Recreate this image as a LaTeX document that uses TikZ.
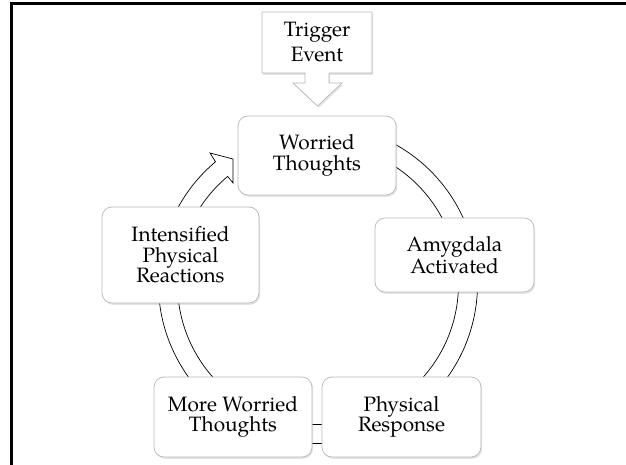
\documentclass[tikz,border=0pt]{standalone}
\usepackage{fontspec}
\setmainfont{TeX Gyre Pagella}
\usetikzlibrary{shadows}
\begin{document}
\begin{tikzpicture}[x=1pt,y=-1pt,
  boxshadow/.style={drop shadow={shadow xshift=1.2pt, shadow yshift=-1.8pt, opacity=0.22}},
  box/.style={draw=black!28, line width=0.7pt, fill=white, rounded corners=10pt,
    align=center, inner sep=0pt, font=\fontsize{20.8}{20.5}\selectfont, boxshadow},
  ringline/.style={draw=black, line width=0.7pt, fill=white},
  frameline/.style={draw=black, line width=3pt}]
\useasboundingbox (0,0) rectangle (626,465);
% frame
\draw[frameline] (626,3.5) -- (11,3.5) -- (11,465);
% cycle ring with arrow head
\draw[ringline] ([shift={(318,284)}]-80:159.5) arc[start angle=-80, end angle=230, radius=159.5]
  -- (210,153) -- (233,159) -- (233,183)
  -- ([shift={(318,284)}]230:140.5) arc[start angle=230, end angle=-80, radius=140.5] -- cycle;
% trigger callout
\draw[draw=black!28, line width=0.7pt, fill=white, boxshadow]
  (262,12) -- (372,12) -- (372,73) -- (329,73) -- (329,83) -- (342,83) -- (317.5,106)
  -- (293,83) -- (305,83) -- (305,73) -- (262,73) -- cycle;
\node[align=center, inner sep=0pt, font=\fontsize{20.8}{25}\selectfont] (trig) at (317,42.5) {Trigger\\Event};
% boxes
\node[box, minimum width=158pt, minimum height=79pt] (worried) at (317,155.5) {Worried\\Thoughts};
\node[box, minimum width=159pt, minimum height=74pt] (amyg) at (454.5,255) {Amygdala\\Activated};
\node[box, minimum width=159pt, minimum height=80pt] (phys) at (401.5,417) {Physical\\Response};
\node[box, minimum width=158pt, minimum height=80pt] (more) at (233,417) {More Worried\\Thoughts};
\node[box, minimum width=157pt, minimum height=96pt] (inten) at (180.5,255) {Intensified\\Physical\\Reactions};
\end{tikzpicture}
\end{document}
